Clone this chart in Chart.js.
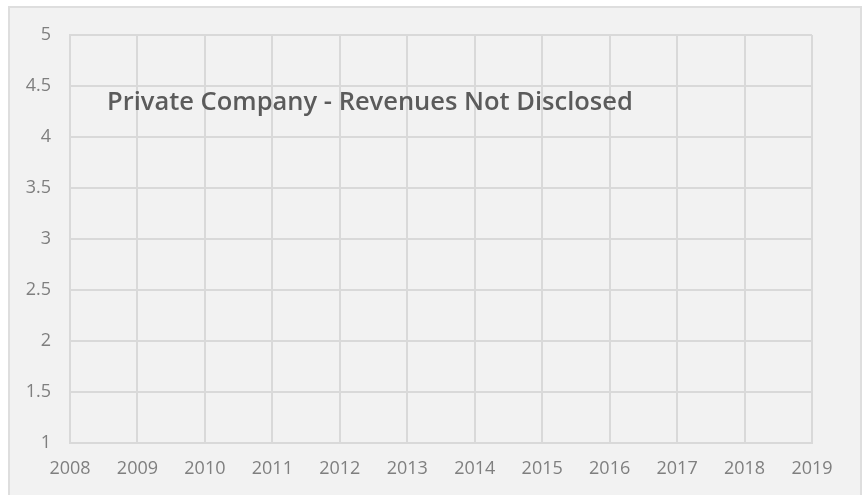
<!DOCTYPE html>
<html lang="en">
<head>
  <meta charset="UTF-8" />
  <title>Private Company - Revenues</title>
  <script src="https://cdn.jsdelivr.net/npm/chart.js"></script>
  <style>
    body {
      margin: 0;
      background: #fff;
      font-family: "Open Sans", Arial, sans-serif;
    }
    .frame {
      position: absolute;
      left: 8px;
      top: 6px;
      width: 850px;
      height: 495px;
      background: #f2f2f2;
      border: 2px solid #dedede;
    }
    .wrap {
      position: absolute;
      left: 0;
      top: 0;
      width: 862px;
      height: 495px;
    }
    .note {
      position: absolute;
      left: 107px;
      top: 84px;
      font-family: "Open Sans", sans-serif;
      font-weight: 600;
      font-size: 25.5px;
      line-height: 32px;
      color: #5b5b5b;
      white-space: nowrap;
    }
  </style>
</head>
<body>
  <div class="frame"></div>
  <div class="wrap">
    <canvas id="chart" width="862" height="495"></canvas>
    <div class="note">Private Company - Revenues Not Disclosed</div>
  </div>

  <script>
    // years along the bottom, no revenue figures published
    const years = ['2008', '2009', '2010', '2011', '2012', '2013', '2014', '2015', '2016', '2017', '2018', '2019'];
    const revenues = [null, null, null, null, null, null, null, null, null, null, null, null];
    const yMin = 1;
    const yMax = 5;
    const yStep = 0.5;

    const gridColor = '#d9d9d9';
    const tickColor = '#7f7f7f';

    new Chart(document.getElementById('chart'), {
      type: 'line',
      data: {
        labels: years,
        datasets: [{ label: 'Revenue', data: revenues, borderColor: '#4472c4' }]
      },
      options: {
        responsive: false,
        animation: false,
        layout: { padding: { left: 0, top: 35, right: 50, bottom: 0 } },
        plugins: { legend: { display: false }, tooltip: { enabled: false } },
        scales: {
          x: {
            offset: false,
            grid: { color: gridColor, lineWidth: 2, drawTicks: false },
            border: { color: gridColor, width: 2 },
            ticks: {
              color: tickColor,
              padding: 15,
              maxRotation: 0,
              autoSkip: false,
              font: { family: 'Open Sans', size: 18 }
            },
            afterFit: (s) => { s.height = 52; }
          },
          y: {
            min: yMin,
            max: yMax,
            grid: { color: gridColor, lineWidth: 2, drawTicks: false },
            border: { color: gridColor, width: 2 },
            ticks: {
              stepSize: yStep,
              color: tickColor,
              padding: 19,
              font: { family: 'Open Sans', size: 18 },
              callback: (v) => String(v)
            },
            afterFit: (s) => { s.width = 70; }
          }
        }
      }
    });
  </script>
</body>
</html>
